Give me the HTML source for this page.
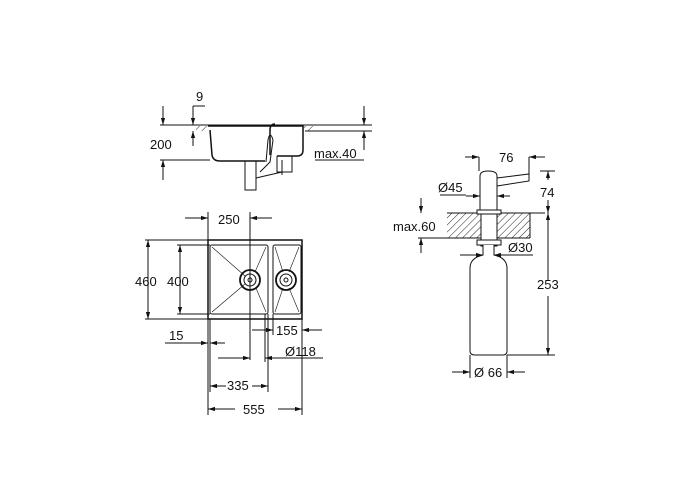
<!DOCTYPE html>
<html><head><style>body{margin:0;background:#fff}svg{display:block}text{font-family:"Liberation Sans",sans-serif;font-size:13px;fill:#111}</style></head>
<body>
<svg width="700" height="500" viewBox="0 0 700 500" xmlns="http://www.w3.org/2000/svg">
<defs>
<marker id="a" viewBox="0 0 10 10" refX="10" refY="5" markerWidth="7" markerHeight="7" orient="auto-start-reverse"><path d="M0,2 L10,5 L0,8z" fill="#111"/></marker>
<pattern id="h" width="5" height="5" patternUnits="userSpaceOnUse" patternTransform="rotate(45)"><line x1="0" y1="0" x2="0" y2="5" stroke="#222" stroke-width="1"/></pattern>
</defs>
<g stroke="#111" stroke-width="1" fill="none">
<!-- top side view -->
<line x1="160" y1="125" x2="372" y2="125"/>
<line x1="160" y1="160" x2="210" y2="160"/>
<line x1="305" y1="131" x2="372" y2="131"/>
<rect x="196" y="126" width="12" height="5" fill="url(#h)" stroke="none"/>
<rect x="303" y="126" width="12" height="5" fill="url(#h)" stroke="none"/>
<path d="M208,126 H303 V150 Q303,156 297,156 H277 M210,130 L212,155 Q213,161 220,161 H265 M270,130 V155 M270,130 Q270,124 275,124" stroke-width="1.5"/>
<path d="M266,162 L268,140 Q270,130 273,140 L270,162 L260,172 M277,156 V172 H292 V156"/>
<path d="M245,161 V190 H256 V161 M256,178 L282,172 M282,160 V175"/>
<line x1="163" y1="106" x2="163" y2="125" marker-end="url(#a)"/>
<line x1="163" y1="180" x2="163" y2="160" marker-end="url(#a)"/>
<line x1="193" y1="106" x2="193" y2="125" marker-end="url(#a)"/>
<line x1="193" y1="146" x2="193" y2="131" marker-end="url(#a)"/>
<line x1="193" y1="106" x2="205" y2="106"/>
<line x1="364" y1="106" x2="364" y2="125" marker-end="url(#a)"/>
<line x1="364" y1="150" x2="364" y2="131" marker-end="url(#a)"/>
<line x1="315" y1="160" x2="364" y2="160"/>
<!-- plan view -->
<rect x="208" y="240" width="94" height="79" stroke-width="1.5"/>
<rect x="210" y="245" width="58" height="69" rx="2"/>
<rect x="273" y="245" width="28" height="69" rx="2"/>
<path d="M212,247 L245,276 M266,247 L255,272 M212,312 L245,284 M266,312 L256,288 M275,247 L283,272 M299,247 L289,272 M275,312 L283,288 M299,312 L289,288" stroke-width="0.6"/>
<circle cx="250" cy="280" r="10" stroke-width="1.8"/><circle cx="250" cy="280" r="6"/><circle cx="250" cy="280" r="2"/>
<circle cx="286" cy="280" r="10" stroke-width="1.8"/><circle cx="286" cy="280" r="6"/><circle cx="286" cy="280" r="2"/>
<line x1="208" y1="212" x2="208" y2="240"/><line x1="250" y1="212" x2="250" y2="360"/>
<line x1="185" y1="218" x2="208" y2="218" marker-end="url(#a)"/><line x1="272" y1="218" x2="250" y2="218" marker-end="url(#a)"/>
<line x1="145" y1="240" x2="208" y2="240"/><line x1="145" y1="319" x2="208" y2="319"/>
<line x1="148" y1="281" x2="148" y2="240" marker-end="url(#a)"/><line x1="148" y1="281" x2="148" y2="319" marker-end="url(#a)"/>
<line x1="177" y1="245" x2="210" y2="245"/><line x1="177" y1="314" x2="210" y2="314"/>
<line x1="180" y1="281" x2="180" y2="245" marker-end="url(#a)"/><line x1="180" y1="281" x2="180" y2="314" marker-end="url(#a)"/>
<line x1="208" y1="319" x2="208" y2="415"/><line x1="302" y1="319" x2="302" y2="415"/>
<line x1="210" y1="319" x2="210" y2="392"/><line x1="268" y1="314" x2="268" y2="392"/>
<line x1="265" y1="314" x2="265" y2="362"/><line x1="273" y1="314" x2="273" y2="335"/>
<line x1="165" y1="343" x2="208" y2="343" marker-end="url(#a)"/><line x1="225" y1="343" x2="210" y2="343" marker-end="url(#a)"/>
<line x1="252" y1="330" x2="273" y2="330" marker-end="url(#a)"/><line x1="322" y1="330" x2="302" y2="330" marker-end="url(#a)"/>
<line x1="218" y1="358" x2="250" y2="358" marker-end="url(#a)"/><line x1="323" y1="358" x2="265" y2="358" marker-end="url(#a)"/>
<line x1="226" y1="386" x2="210" y2="386" marker-end="url(#a)"/><line x1="252" y1="386" x2="268" y2="386" marker-end="url(#a)"/>
<line x1="235" y1="409" x2="208" y2="409" marker-end="url(#a)"/><line x1="278" y1="409" x2="302" y2="409" marker-end="url(#a)"/>
<!-- dispenser -->
<rect x="447" y="213" width="83" height="25" fill="url(#h)" stroke="none"/>
<line x1="447" y1="213" x2="545" y2="213"/><line x1="447" y1="238" x2="530" y2="238"/><line x1="530" y1="213" x2="530" y2="238"/>
<rect x="481" y="206" width="16" height="40" fill="#fff"/>
<path d="M480,213 V176 Q480,171 488,171 Q497,171 497,176 V213 M497,178 L529,174 L529,181 L497,186" fill="#fff"/>
<rect x="477" y="210" width="24" height="4" fill="#fff"/>
<rect x="477" y="240" width="24" height="5" fill="#fff"/>
<path d="M483,245 V255 Q470,258 470,268 V351 Q470,355 475,355 H503 Q507,355 507,351 V268 Q507,258 494,255 V245" fill="#fff"/>
<line x1="479" y1="157" x2="479" y2="171"/><line x1="529" y1="157" x2="529" y2="174"/>
<line x1="465" y1="157" x2="479" y2="157" marker-end="url(#a)"/><line x1="545" y1="157" x2="529" y2="157" marker-end="url(#a)"/>
<line x1="540" y1="171" x2="555" y2="171"/>
<line x1="548" y1="180" x2="548" y2="171" marker-end="url(#a)"/><line x1="548" y1="200" x2="548" y2="213" marker-end="url(#a)"/>
<line x1="548" y1="280" x2="548" y2="213" marker-end="url(#a)"/><line x1="548" y1="296" x2="548" y2="355" marker-end="url(#a)"/>
<line x1="507" y1="355" x2="555" y2="355"/>
<line x1="440" y1="195" x2="466" y2="195"/><line x1="466" y1="196" x2="480" y2="196" marker-end="url(#a)"/><line x1="510" y1="196" x2="497" y2="196" marker-end="url(#a)"/>
<line x1="421" y1="198" x2="421" y2="213" marker-end="url(#a)"/><line x1="421" y1="253" x2="421" y2="238" marker-end="url(#a)"/>
<line x1="418" y1="238" x2="447" y2="238"/>
<line x1="460" y1="255" x2="483" y2="255" marker-end="url(#a)"/><line x1="533" y1="255" x2="494" y2="255" marker-end="url(#a)"/>
<line x1="470" y1="355" x2="470" y2="378"/><line x1="507" y1="355" x2="507" y2="378"/>
<line x1="452" y1="372" x2="470" y2="372" marker-end="url(#a)"/><line x1="525" y1="372" x2="507" y2="372" marker-end="url(#a)"/>
</g>
<text x="196" y="101">9</text>
<text x="150" y="149">200</text>
<text x="314" y="158">max.40</text>
<text x="218" y="224">250</text>
<text x="135" y="286">460</text>
<text x="167" y="286">400</text>
<text x="169" y="340">15</text>
<text x="276" y="335">155</text>
<text x="285" y="356">Ø118</text>
<text x="227" y="390">335</text>
<text x="243" y="414">555</text>
<text x="499" y="162">76</text>
<text x="540" y="197">74</text>
<text x="438" y="192">Ø45</text>
<text x="393" y="231">max.60</text>
<text x="508" y="252">Ø30</text>
<text x="537" y="289">253</text>
<text x="474" y="377">Ø 66</text>
</svg>
</body></html>
